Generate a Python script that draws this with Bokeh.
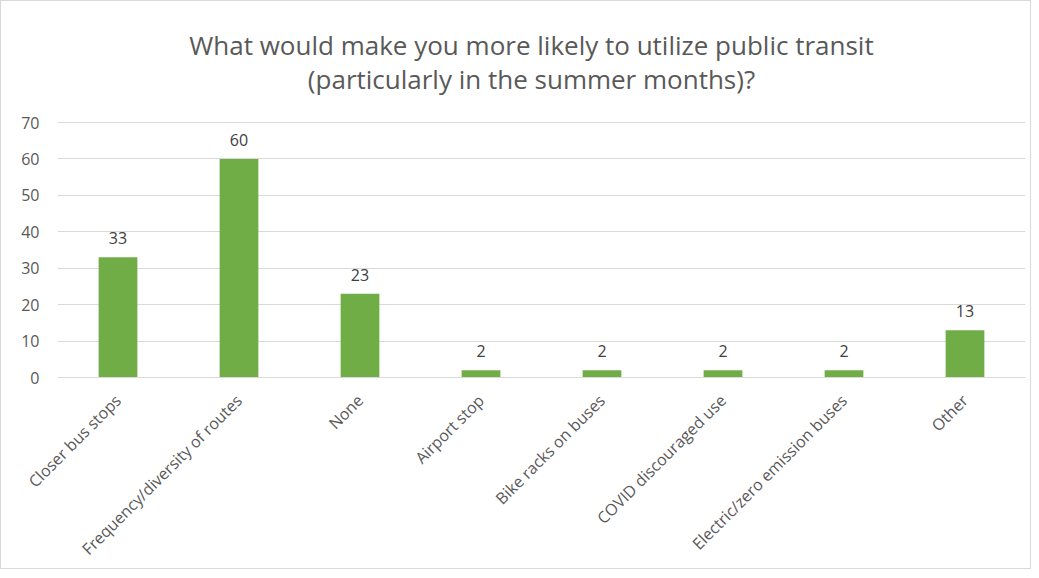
import math
from bokeh.plotting import figure
from bokeh.models import FactorRange, Range1d, Label, ColumnDataSource, FixedTicker
from bokeh.core.properties import value
from bokeh.embed import file_html
from bokeh.resources import INLINE

categories = ["Closer bus stops", "Frequency/diversity of routes", "None", "Airport stop",
              "Bike racks on buses", "COVID discouraged use", "Electric/zero emission buses", "Other"]
counts = [33, 60, 23, 2, 2, 2, 2, 13]
y_ticks = [0, 10, 20, 30, 40, 50, 60, 70]
title_line1 = "What would make you more likely to utilize public transit"
title_line2 = "(particularly in the summer months)?"

FONT = "Open Sans"
GRAY = "#595959"

# layout (pixels inside the figure)
FIG_W, FIG_H = 1031, 569
BORDER_TOP, BORDER_BOTTOM, BORDER_LEFT, BORDER_RIGHT = 10, 193, 56, 7
AXIS_TOP_PX = 121
frame_h = FIG_H - BORDER_TOP - BORDER_BOTTOM
zero_px = FIG_H - BORDER_BOTTOM
y_end = y_ticks[-1] * (zero_px - BORDER_TOP) / (zero_px - AXIS_TOP_PX)

src = ColumnDataSource(dict(cat=categories, val=counts, lab=[str(v) for v in counts]))

p = figure(width=FIG_W, height=FIG_H, x_range=FactorRange(*categories), y_range=Range1d(0, y_end),
           output_backend="svg", toolbar_location=None, title=None,
           min_border_left=BORDER_LEFT, min_border_right=BORDER_RIGHT,
           min_border_top=BORDER_TOP, min_border_bottom=BORDER_BOTTOM)

# title lines: screen units relative to the frame's bottom-left corner
for txt, from_top in ((title_line1, 43), (title_line2, 77)):
    p.add_layout(Label(x=474, y=zero_px - from_top, x_units="screen", y_units="screen", text=txt,
                       text_align="center", text_baseline="middle", text_font=FONT,
                       text_font_size="26px", text_color=GRAY))

p.vbar(x="cat", top="val", width=0.32, source=src, fill_color="#70AD47", line_color=None)
p.text(x="cat", y="val", text="lab", source=src, text_align="center", text_baseline="middle",
       y_offset=-19, text_font=value(FONT), text_font_size="16px", text_color="#404040")

p.outline_line_color = None
p.xgrid.grid_line_color = None
p.ygrid.grid_line_color = "#D9D9D9"
p.ygrid.grid_line_width = 1

p.yaxis.ticker = FixedTicker(ticks=y_ticks)
p.yaxis.axis_line_color = None
p.yaxis.major_tick_line_color = None
p.yaxis.minor_tick_line_color = None
p.yaxis.major_label_text_font = FONT
p.yaxis.major_label_text_font_size = "16px"
p.yaxis.major_label_text_color = GRAY
p.yaxis.major_label_standoff = 12

p.xaxis.axis_line_color = "#D9D9D9"
p.xaxis.major_tick_line_color = None
p.xaxis.minor_tick_line_color = None
p.xaxis.major_label_orientation = math.pi / 4
p.xaxis.major_label_text_font = FONT
p.xaxis.major_label_text_font_size = "16px"
p.xaxis.major_label_text_color = GRAY
p.xaxis.major_label_standoff = 14
p.x_range.range_padding = 0
p.x_range.group_padding = 0

p.styles = {"border": "1px solid #D9D9D9"}

open("out.html", "w").write(file_html(p, INLINE))
